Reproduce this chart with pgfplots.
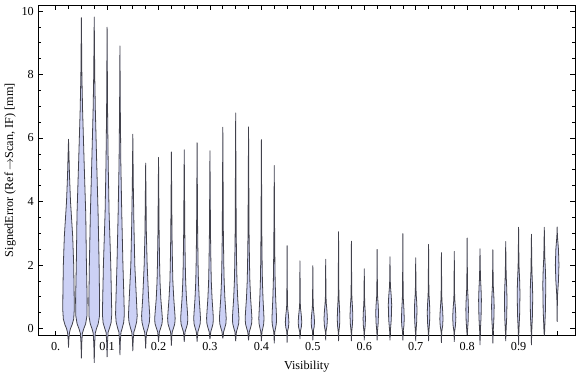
\documentclass[border=0pt]{standalone}
\usepackage{fontspec}
\setmainfont{Liberation Serif}
\usepackage{pgfplots}
\pgfplotsset{compat=1.18}
\definecolor{vfill}{rgb}{0.80,0.82,0.96}
\definecolor{vedge}{rgb}{0.26,0.26,0.30}
\newcommand{\pxu}{0.0019354}
\newcommand{\vio}[2]{\addplot[vio] table[x expr={#1+\thisrow{w}*\pxu},y=y,row sep=\\]{#2};}
\begin{document}
\begin{tikzpicture}
\begin{axis}[
  scale only axis, width=404.25pt, height=249pt,
  xmin=-0.0335, xmax=1.0097, ymin=-0.219, ymax=10.19,
  clip=false,
  axis line style={black, line width=0.5pt},
  every tick/.style={black, line width=0.5pt},
  tick align=inside, tick pos=both,
  xticklabel pos=lower, yticklabel pos=left,
  xtick={0,0.1,0.2,0.3,0.4,0.5,0.6,0.7,0.8,0.9},
  xticklabels={0.,0.1,0.2,0.3,0.4,0.5,0.6,0.7,0.8,0.9},
  extra x ticks={0.025,0.05,0.075,0.125,0.15,0.175,0.225,0.25,0.275,0.325,0.35,0.375,0.425,0.45,0.475,0.525,0.55,0.575,0.625,0.65,0.675,0.725,0.75,0.775,0.825,0.85,0.875,0.925,0.95,0.975},
  extra x tick labels={},
  extra x tick style={major tick length=3pt},
  ytick={0,2,4,6,8,10}, minor y tick num=3,
  major tick length=3.5pt, minor tick length=2pt,
  /pgf/number format/assume math mode=true,
  tick label style={font=\fontsize{9.2}{10}\selectfont},
  xticklabel style={anchor=center, yshift=-8pt},
  label style={font=\fontsize{9.2}{10}\selectfont},
  xlabel={Visibility},
  xlabel style={at={(axis description cs:0.5,-0.0934)}, anchor=center},
  ylabel={SignedError (Ref\,$\rightarrow$Scan, IF) [mm]},
  ylabel style={at={(axis description cs:-0.0529,0.5)}, anchor=center},
  vio/.style={fill=vfill, draw=vedge, line width=0.6pt, line join=round},
]
\vio{0.025}{w y\\0 -0.60\\0.3 -0.35\\1.0 -0.12\\2.0 0\\3.6 0.12\\5.2 0.3\\5.8 0.6\\5.6 1.2\\5.2 2.0\\4.2 2.9\\2.0 4.0\\1.0 4.8\\0.5 5.4\\0 5.96\\-0.5 5.4\\-1.0 4.8\\-2.0 4.0\\-4.2 2.9\\-5.2 2.0\\-5.6 1.2\\-5.8 0.6\\-5.2 0.3\\-3.6 0.12\\-2.0 0\\-1.0 -0.12\\-0.3 -0.35\\0 -0.60\\}
\vio{0.05}{w y\\0 -0.94\\0.4 -0.45\\1.0 -0.15\\2.5 0\\4.3 0.15\\5.6 0.4\\5.8 0.9\\5.4 1.5\\5.0 2.2\\4.4 3.6\\2.8 5.2\\1.2 6.9\\0.5 8.0\\0 9.79\\-0.5 8.0\\-1.2 6.9\\-2.8 5.2\\-4.4 3.6\\-5.0 2.2\\-5.4 1.5\\-5.8 0.9\\-5.6 0.4\\-4.3 0.15\\-2.5 0\\-1.0 -0.15\\-0.4 -0.45\\0 -0.94\\}
\vio{0.075}{w y\\0 -1.08\\0.4 -0.5\\1.0 -0.15\\2.3 0\\4.0 0.15\\5.3 0.4\\5.4 0.9\\5.1 1.5\\4.9 2.0\\3.9 3.6\\2.5 5.2\\1.1 6.9\\0.5 8.0\\0 9.81\\-0.5 8.0\\-1.1 6.9\\-2.5 5.2\\-3.9 3.6\\-4.9 2.0\\-5.1 1.5\\-5.4 0.9\\-5.3 0.4\\-4.0 0.15\\-2.3 0\\-1.0 -0.15\\-0.4 -0.5\\0 -1.08\\}
\vio{0.1}{w y\\0 -0.90\\0.4 -0.45\\1.0 -0.12\\2.3 0\\4.0 0.18\\4.7 0.45\\4.4 0.95\\3.7 2.0\\2.0 3.66\\1.1 5.2\\0.5 6.8\\0 9.49\\-0.5 6.8\\-1.1 5.2\\-2.0 3.66\\-3.7 2.0\\-4.4 0.95\\-4.7 0.45\\-4.0 0.18\\-2.3 0\\-1.0 -0.12\\-0.4 -0.45\\0 -0.90\\}
\vio{0.125}{w y\\0 -0.84\\0.4 -0.4\\1.0 -0.12\\2.2 0\\3.8 0.2\\4.4 0.45\\4.0 0.95\\3.0 2.0\\1.8 3.66\\0.9 5.2\\0.4 6.8\\0 8.9\\-0.4 6.8\\-0.9 5.2\\-1.8 3.66\\-3.0 2.0\\-4.0 0.95\\-4.4 0.45\\-3.8 0.2\\-2.2 0\\-1.0 -0.12\\-0.4 -0.4\\0 -0.84\\}
\vio{0.15}{w y\\0 -0.71\\0.4 -0.35\\1.0 -0.12\\2.2 0\\3.8 0.2\\4.4 0.4\\3.6 0.95\\2.0 2.0\\1.1 3.3\\0.5 4.5\\0 6.12\\-0.5 4.5\\-1.1 3.3\\-2.0 2.0\\-3.6 0.95\\-4.4 0.4\\-3.8 0.2\\-2.2 0\\-1.0 -0.12\\-0.4 -0.35\\0 -0.71\\}
\vio{0.175}{w y\\0 -0.63\\0.4 -0.3\\1.0 -0.12\\2.2 0\\3.7 0.2\\4.1 0.4\\3.0 0.94\\1.5 2.0\\0.7 3.0\\0 5.21\\-0.7 3.0\\-1.5 2.0\\-3.0 0.94\\-4.1 0.4\\-3.7 0.2\\-2.2 0\\-1.0 -0.12\\-0.4 -0.3\\0 -0.63\\}
\vio{0.2}{w y\\0 -0.42\\0.4 -0.25\\0.9 -0.1\\2.0 0\\3.5 0.15\\3.9 0.3\\3.3 0.55\\2.3 0.94\\1.5 1.47\\1.1 2.0\\0.6 3.0\\0 5.39\\-0.6 3.0\\-1.1 2.0\\-1.5 1.47\\-2.3 0.94\\-3.3 0.55\\-3.9 0.3\\-3.5 0.15\\-2.0 0\\-0.9 -0.1\\-0.4 -0.25\\0 -0.42\\}
\vio{0.225}{w y\\0 -0.54\\0.4 -0.25\\0.9 -0.1\\2.0 0\\3.4 0.15\\3.8 0.32\\3.3 0.55\\2.4 0.94\\1.5 1.47\\1.1 2.0\\0.6 3.0\\0 5.56\\-0.6 3.0\\-1.1 2.0\\-1.5 1.47\\-2.4 0.94\\-3.3 0.55\\-3.8 0.32\\-3.4 0.15\\-2.0 0\\-0.9 -0.1\\-0.4 -0.25\\0 -0.54\\}
\vio{0.25}{w y\\0 -0.42\\0.36 -0.25\\0.86 -0.1\\1.9 0\\3.24 0.15\\3.6 0.32\\3.13 0.55\\2.23 0.94\\1.44 1.47\\1.04 2\\0.58 3\\0 5.63\\-0.58 3\\-1.04 2\\-1.44 1.47\\-2.23 0.94\\-3.13 0.55\\-3.6 0.32\\-3.24 0.15\\-1.9 0\\-0.86 -0.1\\-0.36 -0.25\\0 -0.42\\}
\vio{0.275}{w y\\0 -0.41\\0.34 -0.25\\0.82 -0.1\\1.8 0\\3.06 0.15\\3.4 0.32\\2.96 0.55\\2.11 0.94\\1.36 1.47\\0.99 2\\0.54 3\\0 5.85\\-0.54 3\\-0.99 2\\-1.36 1.47\\-2.11 0.94\\-2.96 0.55\\-3.4 0.32\\-3.06 0.15\\-1.8 0\\-0.82 -0.1\\-0.34 -0.25\\0 -0.41\\}
\vio{0.3}{w y\\0 -0.33\\0.34 -0.25\\0.82 -0.1\\1.8 0\\3.06 0.15\\3.4 0.32\\2.96 0.55\\2.11 0.94\\1.36 1.47\\0.99 2\\0.54 3\\0 5.60\\-0.54 3\\-0.99 2\\-1.36 1.47\\-2.11 0.94\\-2.96 0.55\\-3.4 0.32\\-3.06 0.15\\-1.8 0\\-0.82 -0.1\\-0.34 -0.25\\0 -0.33\\}
\vio{0.325}{w y\\0 -0.31\\0.34 -0.25\\0.82 -0.1\\1.8 0\\3.06 0.15\\3.4 0.32\\2.96 0.55\\2.11 0.94\\1.36 1.47\\0.99 2\\0.54 3\\0 6.34\\-0.54 3\\-0.99 2\\-1.36 1.47\\-2.11 0.94\\-2.96 0.55\\-3.4 0.32\\-3.06 0.15\\-1.8 0\\-0.82 -0.1\\-0.34 -0.25\\0 -0.31\\}
\vio{0.35}{w y\\0 -0.40\\0.33 -0.25\\0.79 -0.1\\1.75 0\\2.97 0.15\\3.3 0.32\\2.87 0.55\\2.05 0.94\\1.32 1.47\\0.96 2\\0.53 3\\0 6.79\\-0.53 3\\-0.96 2\\-1.32 1.47\\-2.05 0.94\\-2.87 0.55\\-3.3 0.32\\-2.97 0.15\\-1.75 0\\-0.79 -0.1\\-0.33 -0.25\\0 -0.40\\}
\vio{0.375}{w y\\0 -0.37\\0.34 -0.25\\0.82 -0.1\\1.8 0\\3.06 0.15\\3.4 0.32\\2.96 0.55\\2.11 0.94\\1.36 1.47\\0.99 2\\0.54 3\\0 6.35\\-0.54 3\\-0.99 2\\-1.36 1.47\\-2.11 0.94\\-2.96 0.55\\-3.4 0.32\\-3.06 0.15\\-1.8 0\\-0.82 -0.1\\-0.34 -0.25\\0 -0.37\\}
\vio{0.4}{w y\\0 -0.40\\0.26 -0.25\\0.62 -0.1\\1.38 0\\2.34 0.15\\2.6 0.32\\2.26 0.55\\1.61 0.94\\1.04 1.47\\0.75 2\\0.42 3\\0 5.95\\-0.42 3\\-0.75 2\\-1.04 1.47\\-1.61 0.94\\-2.26 0.55\\-2.6 0.32\\-2.34 0.15\\-1.38 0\\-0.62 -0.1\\-0.26 -0.25\\0 -0.40\\}
\vio{0.425}{w y\\0 -0.47\\0.23 -0.25\\0.55 -0.1\\1.22 0\\2.07 0.15\\2.3 0.32\\2.0 0.55\\1.43 0.94\\0.92 1.47\\0.67 2\\0.37 3\\0 5.13\\-0.37 3\\-0.67 2\\-0.92 1.47\\-1.43 0.94\\-2.0 0.55\\-2.3 0.32\\-2.07 0.15\\-1.22 0\\-0.55 -0.1\\-0.23 -0.25\\0 -0.47\\}
\vio{0.45}{w y\\0 -0.44\\0.3 -0.1\\1.35 0.04\\1.8 0.2\\1.35 0.41\\0.63 0.62\\0.3 0.8\\0.15 1.7\\0 2.61\\-0.15 1.7\\-0.3 0.8\\-0.63 0.62\\-1.35 0.41\\-1.8 0.2\\-1.35 0.04\\-0.3 -0.1\\0 -0.44\\}
\vio{0.475}{w y\\0 -0.33\\0.3 -0.1\\1.35 0.04\\1.8 0.2\\1.35 0.41\\0.63 0.62\\0.3 0.8\\0.15 1.47\\0 2.13\\-0.15 1.47\\-0.3 0.8\\-0.63 0.62\\-1.35 0.41\\-1.8 0.2\\-1.35 0.04\\-0.3 -0.1\\0 -0.33\\}
\vio{0.5}{w y\\0 -0.37\\0.3 -0.1\\1.28 0.04\\1.7 0.2\\1.28 0.41\\0.6 0.62\\0.3 0.8\\0.15 1.39\\0 1.98\\-0.15 1.39\\-0.3 0.8\\-0.6 0.62\\-1.28 0.41\\-1.7 0.2\\-1.28 0.04\\-0.3 -0.1\\0 -0.37\\}
\vio{0.525}{w y\\0 -0.37\\0.3 -0.1\\1.28 0.08\\1.7 0.3\\1.28 0.55\\0.6 0.79\\0.3 1.0\\0.15 1.59\\0 2.18\\-0.15 1.59\\-0.3 1.0\\-0.6 0.79\\-1.28 0.55\\-1.7 0.3\\-1.28 0.08\\-0.3 -0.1\\0 -0.37\\}
\vio{0.55}{w y\\0 -0.40\\0.3 -0.1\\0.98 0.08\\1.3 0.3\\0.98 0.62\\0.46 0.93\\0.3 1.2\\0.15 2.13\\0 3.05\\-0.15 2.13\\-0.3 1.2\\-0.46 0.93\\-0.98 0.62\\-1.3 0.3\\-0.98 0.08\\-0.3 -0.1\\0 -0.40\\}
\vio{0.575}{w y\\0 -0.40\\0.3 -0.1\\1.05 0.13\\1.4 0.4\\1.05 0.68\\0.49 0.96\\0.3 1.2\\0.15 1.98\\0 2.75\\-0.15 1.98\\-0.3 1.2\\-0.49 0.96\\-1.05 0.68\\-1.4 0.4\\-1.05 0.13\\-0.3 -0.1\\0 -0.40\\}
\vio{0.6}{w y\\0 -0.37\\0.3 -0.1\\0.9 0.08\\1.2 0.3\\0.9 0.55\\0.42 0.79\\0.3 1.0\\0.15 1.44\\0 1.88\\-0.15 1.44\\-0.3 1.0\\-0.42 0.79\\-0.9 0.55\\-1.2 0.3\\-0.9 0.08\\-0.3 -0.1\\0 -0.37\\}
\vio{0.625}{w y\\0 -0.37\\0.3 -0.1\\1.05 0.17\\1.4 0.5\\1.05 0.75\\0.49 0.99\\0.3 1.2\\0.15 1.85\\0 2.49\\-0.15 1.85\\-0.3 1.2\\-0.49 0.99\\-1.05 0.75\\-1.4 0.5\\-1.05 0.17\\-0.3 -0.1\\0 -0.37\\}
\vio{0.65}{w y\\0 -0.37\\0.3 -0.1\\1.28 0.28\\1.7 0.75\\1.28 1.01\\0.6 1.28\\0.3 1.5\\0.15 1.88\\0 2.26\\-0.15 1.88\\-0.3 1.5\\-0.6 1.28\\-1.28 1.01\\-1.7 0.75\\-1.28 0.28\\-0.3 -0.1\\0 -0.37\\}
\vio{0.675}{w y\\0 -0.37\\0.3 -0.1\\1.05 0.08\\1.4 0.3\\1.05 0.62\\0.49 0.93\\0.3 1.2\\0.15 2.1\\0 2.99\\-0.15 2.1\\-0.3 1.2\\-0.49 0.93\\-1.05 0.62\\-1.4 0.3\\-1.05 0.08\\-0.3 -0.1\\0 -0.37\\}
\vio{0.7}{w y\\0 -0.40\\0.3 -0.1\\0.98 0.22\\1.3 0.6\\0.98 0.85\\0.46 1.09\\0.3 1.3\\0.15 1.77\\0 2.23\\-0.15 1.77\\-0.3 1.3\\-0.46 1.09\\-0.98 0.85\\-1.3 0.6\\-0.98 0.22\\-0.3 -0.1\\0 -0.40\\}
\vio{0.725}{w y\\0 -0.40\\0.3 -0.1\\0.98 0.17\\1.3 0.5\\0.98 0.78\\0.46 1.06\\0.3 1.3\\0.15 1.98\\0 2.65\\-0.15 1.98\\-0.3 1.3\\-0.46 1.06\\-0.98 0.78\\-1.3 0.5\\-0.98 0.17\\-0.3 -0.1\\0 -0.40\\}
\vio{0.75}{w y\\0 -0.45\\0.3 -0.1\\1.2 0.08\\1.6 0.3\\1.2 0.58\\0.56 0.86\\0.3 1.1\\0.15 1.75\\0 2.39\\-0.15 1.75\\-0.3 1.1\\-0.56 0.86\\-1.2 0.58\\-1.6 0.3\\-1.2 0.08\\-0.3 -0.1\\0 -0.45\\}
\vio{0.775}{w y\\0 -0.42\\0.3 -0.1\\1.2 0.1\\1.6 0.35\\1.2 0.61\\0.56 0.88\\0.3 1.1\\0.15 1.77\\0 2.43\\-0.15 1.77\\-0.3 1.1\\-0.56 0.88\\-1.2 0.61\\-1.6 0.35\\-1.2 0.1\\-0.3 -0.1\\0 -0.42\\}
\vio{0.8}{w y\\0 -0.21\\0.3 -0.1\\0.98 0.22\\1.3 0.6\\0.98 0.92\\0.46 1.23\\0.3 1.5\\0.15 2.18\\0 2.85\\-0.15 2.18\\-0.3 1.5\\-0.46 1.23\\-0.98 0.92\\-1.3 0.6\\-0.98 0.22\\-0.3 -0.1\\0 -0.21\\}
\vio{0.825}{w y\\0 -0.52\\0.3 -0.1\\1.05 0.35\\1.4 0.9\\1.05 1.25\\0.49 1.6\\0.3 1.9\\0.15 2.2\\0 2.51\\-0.15 2.2\\-0.3 1.9\\-0.49 1.6\\-1.05 1.25\\-1.4 0.9\\-1.05 0.35\\-0.3 -0.1\\0 -0.52\\}
\vio{0.85}{w y\\0 -0.47\\0.3 -0.1\\0.98 0.26\\1.3 0.7\\0.98 1.02\\0.46 1.33\\0.3 1.6\\0.15 2.04\\0 2.48\\-0.15 2.04\\-0.3 1.6\\-0.46 1.33\\-0.98 1.02\\-1.3 0.7\\-0.98 0.26\\-0.3 -0.1\\0 -0.47\\}
\vio{0.875}{w y\\0 -0.40\\0.3 -0.1\\0.98 0.35\\1.3 0.9\\0.98 1.29\\0.46 1.67\\0.3 2.0\\0.15 2.37\\0 2.74\\-0.15 2.37\\-0.3 2.0\\-0.46 1.67\\-0.98 1.29\\-1.3 0.9\\-0.98 0.35\\-0.3 -0.1\\0 -0.40\\}
\vio{0.9}{w y\\0 -0.52\\0.3 -0.1\\1.05 0.44\\1.4 1.1\\1.05 1.52\\0.49 1.94\\0.3 2.3\\0.15 2.75\\0 3.19\\-0.15 2.75\\-0.3 2.3\\-0.49 1.94\\-1.05 1.52\\-1.4 1.1\\-1.05 0.44\\-0.3 -0.1\\0 -0.52\\}
\vio{0.925}{w y\\0 -0.52\\0.3 -0.1\\0.98 0.4\\1.3 1.0\\0.98 1.42\\0.46 1.84\\0.3 2.2\\0.15 2.59\\0 2.97\\-0.15 2.59\\-0.3 2.2\\-0.46 1.84\\-0.98 1.42\\-1.3 1.0\\-0.98 0.4\\-0.3 -0.1\\0 -0.52\\}
\vio{0.95}{w y\\0 -0.22\\0.3 -0.1\\1.13 0.58\\1.5 1.4\\1.13 1.82\\0.53 2.24\\0.3 2.6\\0.15 2.9\\0 3.19\\-0.15 2.9\\-0.3 2.6\\-0.53 2.24\\-1.13 1.82\\-1.5 1.4\\-1.13 0.58\\-0.3 -0.1\\0 -0.22\\}
\vio{0.975}{w y\\0 0.21\\0.3 1.0\\1.3 1.5\\1.8 2.0\\1.3 2.5\\0.3 2.9\\0 3.2\\-0.3 2.9\\-1.3 2.5\\-1.8 2.0\\-1.3 1.5\\-0.3 1.0\\0 0.21\\}
\end{axis}
\path ([xshift=-27pt,yshift=-30pt]current axis.south west) rectangle ([xshift=0.75pt,yshift=3.75pt]current axis.north east);
\end{tikzpicture}
\end{document}
